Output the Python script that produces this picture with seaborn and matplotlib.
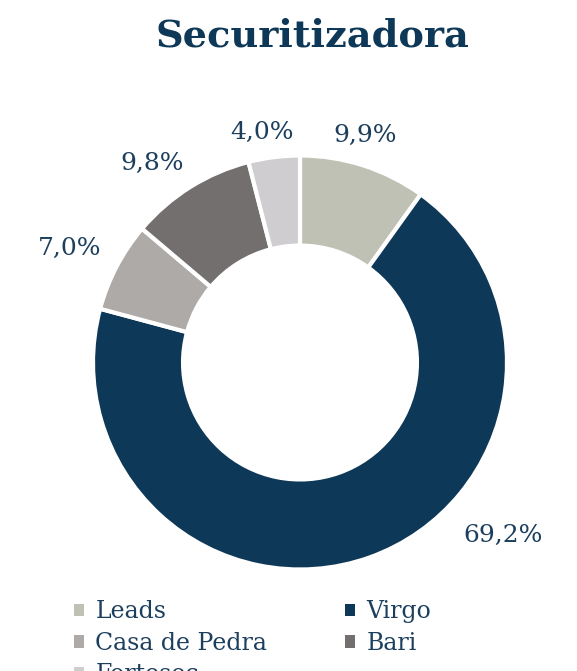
import numpy as np
import matplotlib
matplotlib.use("Agg")
import matplotlib.pyplot as plt
import matplotlib.patches as mpatches
import seaborn as sns

# ---- data ----
categories = ["Leads", "Virgo", "Casa de Pedra", "Bari", "Fortesec"]
values = [9.9, 69.2, 7.0, 9.8, 4.0]
title = "Securitizadora"

# ---- style ----
colors = ["#BFC1B4", "#0E3857", "#ADAAA8", "#736F6E", "#CFCDCF"]
text_color = "#1D3F5E"
title_color = "#0E3857"
label_dist = [1.14, 1.29, 1.24, 1.20, 1.125]
label_angle_offset = [1.7, 30.0, 1.4, 4.5, 2.1]

sns.set_theme(style="white")
plt.rcParams["font.family"] = ["DejaVu Serif"]

W, H = 577, 671
fig = plt.figure(figsize=(W / 100, H / 100), dpi=100)
cx, cy, R = 300, 362.5, 207
ax = fig.add_axes([(cx - R) / W, (H - cy - R) / H, 2 * R / W, 2 * R / H])

wedges, _ = ax.pie(values, colors=colors, startangle=90, counterclock=False,
                   radius=1.0,
                   wedgeprops=dict(width=0.435, edgecolor="white", linewidth=3))
ax.set_xlim(-1, 1)
ax.set_ylim(-1, 1)
ax.set_aspect("equal")
ax.axis("off")

for w, v, d, off in zip(wedges, values, label_dist, label_angle_offset):
    mid = np.deg2rad((w.theta1 + w.theta2) / 2 + off)
    ax.text(d * np.cos(mid), d * np.sin(mid), f"{v:.1f}".replace(".", ",") + "%",
            ha="center", va="center", fontsize=18, color=text_color, clip_on=False)

fig.text(312 / W, 1 - 36 / H, title, ha="center", va="center", fontsize=27.5,
         color=title_color, fontweight="bold")

order = [0, 2, 4, 1, 3]
handles = [mpatches.Patch(facecolor=colors[i], edgecolor="none") for i in order]
labels = [categories[i] for i in order]
leg = fig.legend(handles, labels, ncol=2, loc="upper left",
                 bbox_to_anchor=(65 / W, 1 - 591 / H),
                 frameon=False, fontsize=17, handlelength=0.42, handleheight=0.42,
                 handletextpad=0.47, columnspacing=3.3, labelspacing=0.36,
                 borderaxespad=0)
for t in leg.get_texts():
    t.set_color(text_color)

fig.savefig("out.png", dpi=100)
